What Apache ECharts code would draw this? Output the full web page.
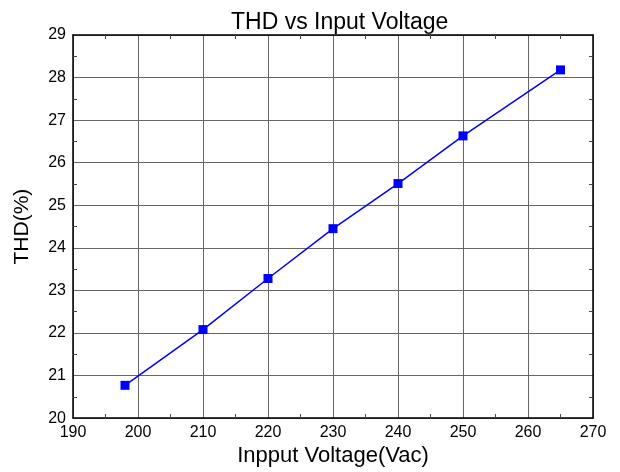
<!DOCTYPE html>
<html>
<head>
<meta charset="utf-8">
<script src="https://cdn.jsdelivr.net/npm/echarts@6/dist/echarts.min.js"></script>
<style>
  html, body { margin: 0; padding: 0; background: #fff; }
  #main { width: 620px; height: 472px; }
</style>
</head>
<body>
<div id="main"></div>
<script>
// 输入电压 (Vac)
const voltages = [198, 210, 220, 230, 240, 250, 265];
// THD (%)
const thd = [20.77, 22.08, 23.28, 24.45, 25.51, 26.63, 28.18];

const xTicks = { min: 190, max: 270, step: 10 };
const yTicks = { min: 20, max: 29, step: 1 };

const font = 'Arial, "Liberation Sans", sans-serif';

const myChart = echarts.init(document.getElementById('main'));

// 四周的坐标轴都带内侧小刻度
function frameAxis(base, pos, showLabel) {
  return Object.assign({
    type: 'value',
    position: pos,
    axisLine: { show: true, onZero: false, lineStyle: { color: '#000', width: 1.5 } },
    axisTick: { show: true, inside: true, length: 0 },
    minorTick: { show: true, splitNumber: 2, length: 4, lineStyle: { color: '#444', width: 1 } },
    axisLabel: { show: showLabel, color: '#000', fontFamily: font, fontSize: 16 },
    splitLine: { show: false },
    minorSplitLine: { show: false }
  }, base);
}

const xBase = { min: xTicks.min, max: xTicks.max, interval: xTicks.step };
const yBase = { min: yTicks.min, max: yTicks.max, interval: yTicks.step };

const option = {
  animation: false,
  backgroundColor: '#fff',
  title: {
    text: 'THD vs Input Voltage',
    left: 226,
    top: 6,
    textStyle: { fontFamily: font, fontSize: 23, fontWeight: 'normal', color: '#000' }
  },
  grid: { left: 73, right: 27, top: 35, bottom: 52 },
  xAxis: [
    frameAxis(Object.assign({}, xBase, {
      name: 'Inpput Voltage(Vac)',
      nameLocation: 'middle',
      nameGap: 23,
      nameTextStyle: { fontFamily: font, fontSize: 22, color: '#000' },
      splitLine: { show: true, lineStyle: { color: '#666', width: 1 } },
      axisLabel: { show: true, color: '#000', fontFamily: font, fontSize: 16, margin: 6 }
    }), 'bottom', true),
    frameAxis(Object.assign({}, xBase), 'top', false)
  ],
  yAxis: [
    frameAxis(Object.assign({}, yBase, {
      name: 'THD(%)',
      nameLocation: 'middle',
      nameGap: 40,
      nameTextStyle: { fontFamily: font, fontSize: 21, color: '#000' },
      splitLine: { show: true, lineStyle: { color: '#666', width: 1 } },
      axisLabel: { show: true, color: '#000', fontFamily: font, fontSize: 16, margin: 7 }
    }), 'left', true),
    frameAxis(Object.assign({}, yBase), 'right', false)
  ],
  series: [
    {
      type: 'line',
      xAxisIndex: 0,
      yAxisIndex: 0,
      data: voltages.map((v, i) => [v, thd[i]]),
      symbol: 'rect',
      symbolSize: 9,
      lineStyle: { color: '#0000ff', width: 1.5 },
      itemStyle: { color: '#0000ff' }
    }
  ]
};

myChart.setOption(option);
</script>
</body>
</html>
